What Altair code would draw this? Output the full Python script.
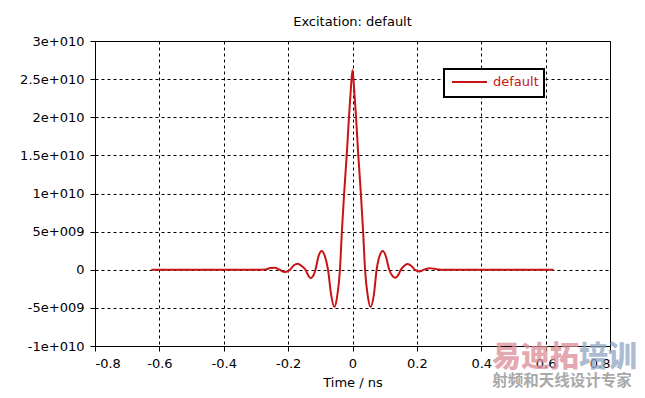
import altair as alt
import pandas as pd

# ---- data ----
time_ns = [-0.625, -0.285, -0.27, -0.255, -0.241, -0.228, -0.21, -0.194, -0.182, -0.17,
           -0.158, -0.146, -0.138, -0.13, -0.122, -0.115, -0.106, -0.096, -0.086, -0.076,
           -0.066, -0.056, -0.048, -0.039, -0.033, -0.026, -0.018, -0.011, -0.005, 0.0,
           0.005, 0.011, 0.018, 0.026, 0.033, 0.039, 0.048, 0.056, 0.066, 0.075,
           0.084, 0.094, 0.104, 0.114, 0.124, 0.133, 0.142, 0.15, 0.16, 0.171,
           0.183, 0.194, 0.208, 0.224, 0.24, 0.255, 0.268, 0.28, 0.625]
excitation = [0.0, 0.0, 0.05e9, 0.22e9, 0.25e9, 0.05e9, -0.3e9, 0.0, 0.6e9, 0.8e9,
              0.5e9, 0.0, -0.7e9, -1.1e9, -0.8e9, 0.0, 1.7e9, 2.45e9, 1.8e9, 0.0,
              -3.4e9, -4.9e9, -3.6e9, 0.0, 5e9, 10e9, 15e9, 20e9, 23.8e9, 26.2e9,
              23.8e9, 20e9, 15e9, 10e9, 5e9, 0.0, -3.6e9, -4.9e9, -3.4e9, 0.0,
              1.8e9, 2.45e9, 1.7e9, 0.0, -0.8e9, -1.05e9, -0.7e9, 0.0, 0.5e9, 0.75e9,
              0.5e9, 0.0, -0.22e9, 0.05e9, 0.2e9, 0.12e9, 0.03e9, 0.0, 0.0]
series_name = "default"

x_ticks = [-0.8, -0.6, -0.4, -0.2, 0.0, 0.2, 0.4, 0.6, 0.8]
x_tick_labels = ["-0.8", "-0.6", "-0.4", "-0.2", "0", "0.2", "0.4", "0.6", "0.8"]
y_ticks = [-1e10, -5e9, 0.0, 5e9, 1e10, 1.5e10, 2e10, 2.5e10, 3e10]
y_tick_labels = ["-1e+010", "-5e+009", "0", "5e+009", "1e+010", "1.5e+010",
                 "2e+010", "2.5e+010", "3e+010"]

title_text = "Excitation: default"
x_title = "Time / ns"
watermark_main_a = "易迪拓"
watermark_main_b = "培训"
watermark_sub = "射频和天线设计专家"

RED = "#c81414"
FONT = "DejaVu Sans"
FS = 13


def label_expr(values, labels, tol):
    expr = "''"
    for v, l in reversed(list(zip(values, labels))):
        expr = f"abs(datum.value - ({v!r})) < {tol} ? '{l}' : ({expr})"
    return expr


df = pd.DataFrame({"time": time_ns, "value": excitation,
                   "series": [series_name] * len(time_ns)})

line = alt.Chart(df).mark_line(interpolate="monotone", strokeWidth=2, color=RED).encode(
    x=alt.X("time:Q",
            scale=alt.Scale(domain=[-0.8, 0.8], nice=False, zero=False),
            axis=alt.Axis(values=x_ticks,
                          labelExpr=label_expr(x_ticks, x_tick_labels, 1e-6),
                          title=x_title, labelPadding=6, titlePadding=6)),
    y=alt.Y("value:Q",
            scale=alt.Scale(domain=[-1e10, 3e10], nice=False),
            axis=alt.Axis(values=y_ticks,
                          labelExpr=label_expr(y_ticks, y_tick_labels, 1000),
                          title=None, labelPadding=6)),
)

title_df = pd.DataFrame({"t": [title_text]})
title_mark = alt.Chart(title_df).mark_text(
    font=FONT, fontSize=FS, color="black", align="center", baseline="alphabetic"
).encode(text="t:N", x=alt.value(257.5), y=alt.value(-15))

# legend box (drawn as a custom key)
leg_df = pd.DataFrame({"s": [series_name]})
leg_box = alt.Chart(leg_df).mark_rect(
    fill="white", stroke="black", strokeWidth=2
).encode(x=alt.value(349), x2=alt.value(449), y=alt.value(28), y2=alt.value(56))
leg_line = alt.Chart(leg_df).mark_rule(color=RED, strokeWidth=2).encode(
    x=alt.value(357), x2=alt.value(392), y=alt.value(41))
leg_text = alt.Chart(leg_df).mark_text(
    font=FONT, fontSize=FS, color=RED, align="left", baseline="middle"
).encode(text="s:N", x=alt.value(398), y=alt.value(41))

wm_df = pd.DataFrame({"a": [watermark_main_a], "b": [watermark_main_b], "c": [watermark_sub]})
wm_a = alt.Chart(wm_df).mark_text(
    font="Noto Sans CJK SC", fontWeight=900, fontSize=29, align="left",
    baseline="middle", color="#dc8c98", opacity=0.75
).encode(text="a:N", x=alt.value(397), y=alt.value(317))
wm_b = alt.Chart(wm_df).mark_text(
    font="Noto Sans CJK SC", fontWeight=900, fontSize=29, align="left",
    baseline="middle", color="#8fa6c4", opacity=0.75
).encode(text="b:N", x=alt.value(484), y=alt.value(317))
wm_c = alt.Chart(wm_df).mark_text(
    font="Noto Sans CJK SC", fontWeight="bold", fontSize=15.5, align="center",
    baseline="middle", color="#a0a0a0", opacity=0.9
).encode(text="c:N", x=alt.value(467), y=alt.value(340))

chart = alt.layer(line, title_mark, leg_box, leg_line, leg_text, wm_a, wm_b, wm_c).properties(
    width=515, height=305,
    autosize="none",
    padding={"left": 87, "top": 33, "right": 27, "bottom": 44},
).configure_view(
    stroke="black", strokeWidth=1
).configure_axis(
    domainColor="black", tickColor="black", tickSize=5,
    gridColor="black", gridDash=[3, 3], gridOpacity=1, gridWidth=1,
    labelFont=FONT, labelFontSize=FS, labelColor="black",
    titleFont=FONT, titleFontSize=FS, titleColor="black", titleFontWeight="normal",
)

chart.save("out.html", embed_options={"renderer": "svg", "actions": False})
